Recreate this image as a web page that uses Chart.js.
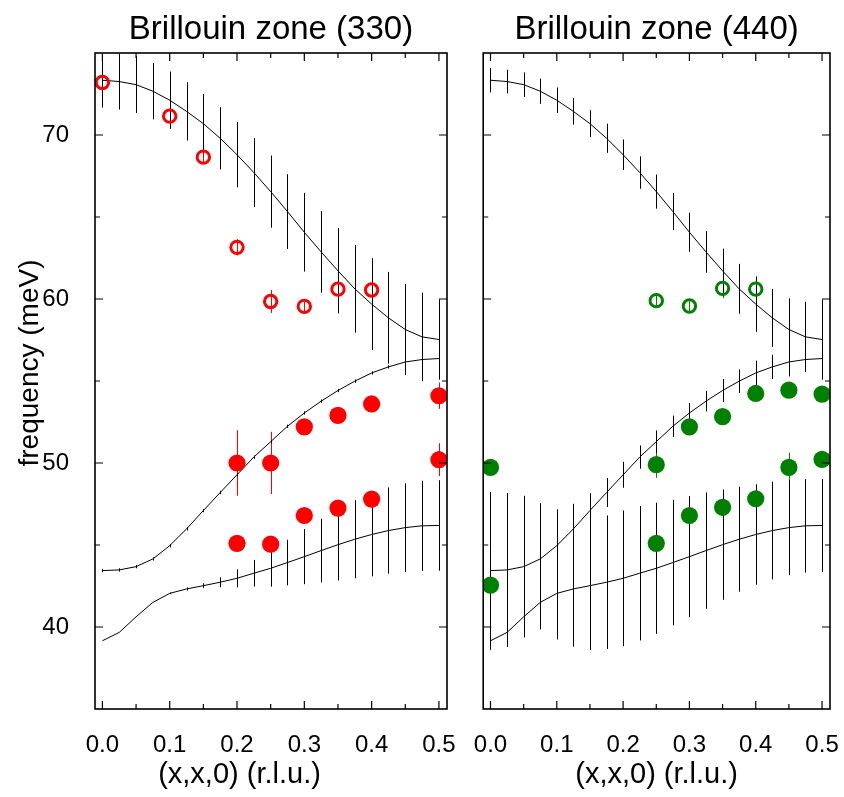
<!DOCTYPE html>
<html>
<head>
<meta charset="utf-8">
<script src="https://cdn.jsdelivr.net/npm/chart.js@4.4.0/dist/chart.umd.min.js"></script>
<style>
  html, body { margin: 0; padding: 0; background: #fff; }
  #wrap { position: relative; width: 844px; height: 797px; }
  canvas { position: absolute; top: 0; }
  #left { left: 0; }
  #right { left: 474px; }
</style>
</head>
<body>
<div id="wrap">
  <canvas id="left" width="479" height="797"></canvas>
  <canvas id="right" width="370" height="797"></canvas>
</div>
<script>
// wave vector grid of the calculated branches (r.l.u.)
const qGrid = [0, 0.025, 0.05, 0.075, 0.1, 0.125, 0.15, 0.175, 0.2, 0.225, 0.25,
               0.275, 0.3, 0.325, 0.35, 0.375, 0.4, 0.425, 0.45, 0.475, 0.5];

// calculated branches (meV), same in both zones
const upperBranch  = [73.34, 73.26, 73.07, 72.67, 72.12, 71.44, 70.69, 69.80, 68.80, 67.71, 66.55,
                      65.33, 64.07, 62.87, 61.72, 60.62, 59.69, 58.85, 58.14, 57.69, 57.53];
const middleBranch = [43.44, 43.48, 43.68, 44.15, 44.96, 45.98, 47.10, 48.20, 49.28, 50.36, 51.30,
                      52.24, 53.05, 53.77, 54.42, 54.99, 55.49, 55.86, 56.16, 56.31, 56.37];
const lowerBranch  = [39.16, 39.67, 40.62, 41.50, 42.05, 42.32, 42.52, 42.73, 42.97, 43.28, 43.58,
                      43.93, 44.29, 44.66, 45.02, 45.35, 45.64, 45.88, 46.06, 46.17, 46.19];

// bar lengths (half, meV) on the calculated branches
const upperBar330  = [1.67, 1.71, 1.73, 1.72, 1.75, 1.78, 1.81, 1.90, 1.99, 2.10, 2.20,
                      2.28, 2.40, 2.49, 2.60, 2.67, 2.80, 2.80, 2.78, 2.70, 2.45];
const middleBar330 = [0.1, 0.1, 0.1, 0.1, 0.1, 0.1, 0.1, 0.1, 0.1, 0.1, 0.1,
                      0.1, 0.1, 0.1, 0.1, 0.1, 0.1, 0.1, 0.1, 0.1, 0.1];
const lowerBar330  = [0, 0, 0, 0, 0.05, 0.1, 0.15, 0.3, 0.55, 0.81, 1.12,
                      1.39, 1.68, 1.94, 2.18, 2.38, 2.55, 2.63, 2.71, 2.75, 2.76];
const upperBar440  = [0.74, 0.72, 0.75, 0.77, 0.78, 0.81, 0.82, 0.89, 0.93, 0.99, 1.04,
                      1.13, 1.19, 1.27, 1.35, 1.52, 1.69, 1.77, 1.90, 2.14, 2.45];
const middleBar440 = [4.79, 4.69, 4.32, 3.40, 2.22, 1.53, 1.06, 0.88, 0.79, 0.71, 0.69,
                      0.65, 0.61, 0.63, 0.70, 0.72, 0.75, 0.74, 0.88, 0.70, 0.70];
const lowerBar440  = [0.55, 0.88, 0.66, 1.65, 2.81, 3.52, 3.93, 4.07, 4.14, 4.10, 4.00,
                      3.83, 3.69, 3.55, 3.36, 3.20, 3.06, 2.98, 2.90, 2.85, 2.83];

// measured points, zone (330)
const open330Q   = [0, 0.1, 0.15, 0.2, 0.25, 0.3, 0.35, 0.4];
const open330E   = [73.2, 71.15, 68.65, 63.15, 59.85, 59.55, 60.6, 60.55];
const open330Err = [0, 0.3, 0.3, 0.5, 0.7, 0.3, 0.6, 0.5];
const full330Q   = [0.2, 0.25, 0.3, 0.35, 0.4, 0.5, 0.2, 0.25, 0.3, 0.35, 0.4, 0.5];
const full330E   = [50.0, 50.0, 52.2, 52.9, 53.6, 54.1, 45.1, 45.05, 46.8, 47.25, 47.8, 50.2];
const full330Err = [2.0, 1.9, 0.3, 0.3, 0.3, 0.8, 0.3, 0.3, 0.3, 0.3, 0.3, 1.0];

// measured points, zone (440)
const open440Q   = [0.25, 0.3, 0.35, 0.4];
const open440E   = [59.9, 59.57, 60.65, 60.6];
const open440Err = [0.3, 0.3, 0.6, 0.3];
const full440Q   = [0, 0, 0.25, 0.25, 0.3, 0.3, 0.35, 0.35, 0.4, 0.4, 0.45, 0.45, 0.5, 0.5];
const full440E   = [49.73, 42.55, 49.9, 45.1, 52.2, 46.8, 52.83, 47.3, 54.24, 47.82, 54.44, 49.73, 54.2, 50.22];
const full440Err = [0.2, 0.2, 0.8, 0.2, 0.3, 0.2, 0.2, 0.8, 0.2, 0.3, 0.4, 0.9, 0.2, 0.3];

// axes
const xTickValues = [0, 0.1, 0.2, 0.3, 0.4, 0.5];
const xTickLabels = ['0.0', '0.1', '0.2', '0.3', '0.4', '0.5'];
const xMinorTicks = [0.05, 0.15, 0.25, 0.35, 0.45];
const yTickValues = [40, 50, 60, 70];
const yTickLabels = ['40', '50', '60', '70'];
const yMinorTicks = [45, 55, 65];

const FONT = '"Liberation Sans", Arial, sans-serif';

function pts(xs, ys) {
    return xs.map((x, i) => ({ x: x, y: ys[i] }));
}

// vertical bars drawn under the symbols
const errorBars = {
    id: 'errorBars',
    beforeDatasetsDraw(chart) {
        const { ctx, chartArea: a, scales: { x, y } } = chart;
        ctx.save();
        ctx.beginPath();
        ctx.rect(a.left, a.top, a.right - a.left, a.bottom - a.top);
        ctx.clip();
        chart.data.datasets.forEach(ds => {
            if (!ds.errors) return;
            ctx.strokeStyle = ds.errorColor;
            ctx.lineWidth = 1;
            ctx.beginPath();
            ds.data.forEach((p, i) => {
                const e = ds.errors[i];
                if (!e) return;
                const px = Math.round(x.getPixelForValue(p.x)) + 0.5;
                ctx.moveTo(px, y.getPixelForValue(p.y + e));
                ctx.lineTo(px, y.getPixelForValue(p.y - e));
            });
            ctx.stroke();
        });
        ctx.restore();
    }
};

// box round the plot with inward ticks on all four sides
const frameTicks = {
    id: 'frameTicks',
    afterDraw(chart) {
        const { ctx, chartArea: a, scales: { x, y } } = chart;
        ctx.save();
        ctx.strokeStyle = '#000';
        ctx.lineWidth = 1.2;
        ctx.beginPath();
        const tx = (v, len) => {
            const px = x.getPixelForValue(v);
            ctx.moveTo(px, a.bottom); ctx.lineTo(px, a.bottom - len);
            ctx.moveTo(px, a.top); ctx.lineTo(px, a.top + len);
        };
        const ty = (v, len) => {
            const py = y.getPixelForValue(v);
            ctx.moveTo(a.left, py); ctx.lineTo(a.left + len, py);
            ctx.moveTo(a.right, py); ctx.lineTo(a.right - len, py);
        };
        xTickValues.forEach(v => tx(v, 8));
        xMinorTicks.forEach(v => tx(v, 5));
        yTickValues.forEach(v => ty(v, 8));
        yMinorTicks.forEach(v => ty(v, 5));
        ctx.stroke();
        ctx.lineWidth = 1.6;
        ctx.strokeRect(a.left, a.top, a.right - a.left, a.bottom - a.top);
        ctx.restore();
    }
};

// axis titles
const axisTitles = {
    id: 'axisTitles',
    afterDraw(chart, args, opts) {
        const { ctx, chartArea: a } = chart;
        ctx.save();
        ctx.fillStyle = '#000';
        ctx.textAlign = 'center';
        ctx.textBaseline = 'middle';
        ctx.font = '29px ' + FONT;
        const cx = opts.xTitleCenter === 'canvas' ? chart.width / 2 : (a.left + a.right) / 2;
        ctx.fillText('(x,x,0) (r.l.u.)', cx, a.bottom + 66);
        if (opts.yTitle) {
            ctx.translate(30, (a.top + a.bottom) / 2 - 18);
            ctx.rotate(-Math.PI / 2);
            ctx.font = '28px ' + FONT;
            ctx.fillText(opts.yTitle, 0, 0);
        }
        ctx.restore();
    }
};

function makeChart(id, zone, sets, color, showY) {
    const datasets = [
        {
            data: pts(sets.openQ, sets.openE), errors: sets.openErr, errorColor: color,
            pointRadius: 6.2, pointBorderWidth: 3, borderColor: color,
            pointBackgroundColor: 'rgba(0,0,0,0)', backgroundColor: 'rgba(0,0,0,0)'
        },
        {
            data: pts(sets.fullQ, sets.fullE), errors: sets.fullErr, errorColor: color,
            pointRadius: 8.6, pointBorderWidth: 0, backgroundColor: color, borderColor: color
        },
        {
            data: pts(qGrid, upperBranch), errors: sets.upperBar, errorColor: '#000',
            showLine: true, borderColor: '#000', borderWidth: 1, pointRadius: 0
        },
        {
            data: pts(qGrid, middleBranch), errors: sets.middleBar, errorColor: '#000',
            showLine: true, borderColor: '#000', borderWidth: 1, pointRadius: 0
        },
        {
            data: pts(qGrid, lowerBranch), errors: sets.lowerBar, errorColor: '#000',
            showLine: true, borderColor: '#000', borderWidth: 1, pointRadius: 0
        }
    ];

    return new Chart(document.getElementById(id), {
        type: 'scatter',
        data: { datasets: datasets },
        plugins: [errorBars, frameTicks, axisTitles],
        options: {
            responsive: false,
            animation: false,
            events: [],
            layout: { padding: showY ? { left: 0, right: 32 } : { left: 5, right: 14 } },
            plugins: {
                legend: { display: false },
                tooltip: { enabled: false },
                title: {
                    display: true,
                    fullSize: false,
                    text: 'Brillouin zone (' + zone + ')',
                    color: '#000',
                    font: { family: FONT, size: 33, weight: 'normal' },
                    padding: { top: 10, bottom: 3.4 }
                },
                axisTitles: {
                    xTitleCenter: showY ? 'canvas' : 'area',
                    yTitle: showY ? 'frequency (meV)' : null
                }
            },
            scales: {
                x: {
                    type: 'linear',
                    min: -0.011,
                    max: 0.512,
                    grid: { display: false, drawTicks: false },
                    border: { display: false },
                    afterBuildTicks: scale => { scale.ticks = xTickValues.map(v => ({ value: v })); },
                    afterFit: scale => {
                        scale.height = 88;
                        scale.paddingLeft = 0;
                        scale.paddingRight = 0;
                    },
                    ticks: {
                        color: '#000',
                        padding: 22,
                        maxRotation: 0,
                        autoSkip: false,
                        font: { family: FONT, size: 24 },
                        callback: (v, i) => xTickLabels[i]
                    }
                },
                y: {
                    type: 'linear',
                    display: showY,
                    min: 35,
                    max: 75,
                    grid: { display: false, drawTicks: false },
                    border: { display: false },
                    afterBuildTicks: scale => { scale.ticks = yTickValues.map(v => ({ value: v })); },
                    afterFit: scale => { scale.width = showY ? 95 : 0; },
                    ticks: {
                        color: '#000',
                        padding: 26,
                        font: { family: FONT, size: 24 },
                        callback: (v, i) => yTickLabels[i]
                    }
                }
            }
        }
    });
}

makeChart('left', '330', {
    openQ: open330Q, openE: open330E, openErr: open330Err,
    fullQ: full330Q, fullE: full330E, fullErr: full330Err,
    upperBar: upperBar330, middleBar: middleBar330, lowerBar: lowerBar330
}, '#ff0000', true);

makeChart('right', '440', {
    openQ: open440Q, openE: open440E, openErr: open440Err,
    fullQ: full440Q, fullE: full440E, fullErr: full440Err,
    upperBar: upperBar440, middleBar: middleBar440, lowerBar: lowerBar440
}, '#008000', false);
</script>
</body>
</html>
